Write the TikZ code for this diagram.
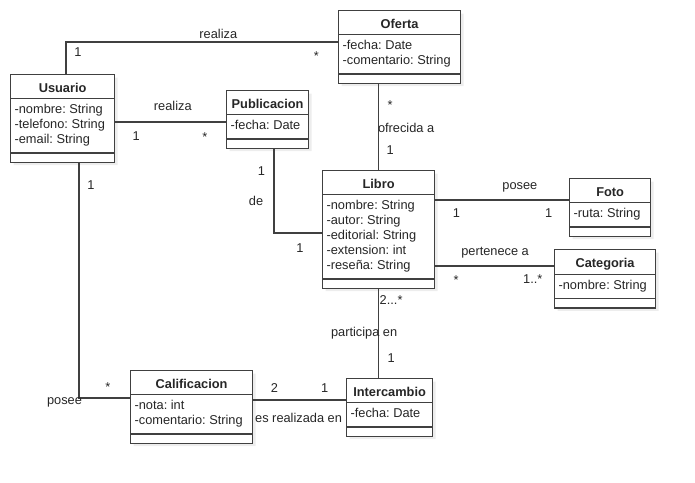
\documentclass[tikz,border=0pt]{standalone}
\usepackage{fontspec}
\setmainfont{Liberation Sans}
\frenchspacing
\usetikzlibrary{shapes.multipart,shadows}

\begin{document}
\begin{tikzpicture}[x=1pt,y=-1pt,font=\fontsize{12.8}{15}\selectfont,text=black!85,
    class/.style={rectangle split,rectangle split parts=3,draw=black!75,line width=1.2pt,fill=white,
      anchor=north west,inner xsep=4pt,inner ysep=4pt,align=left,
      rectangle split part align={center,left,left},
      drop shadow={shadow xshift=3pt,shadow yshift=-3pt,fill=black!7,opacity=1}},
    assoc/.style={draw=black!75,line width=1.2pt},
    lbl/.style={anchor=base,inner sep=0pt}]
  \useasboundingbox (0,0) rectangle (695,482);

  % classes
  \node[class,minimum width=104] (usuario) at (10,74) {\textbf{Usuario}\rule[-2pt]{0pt}{15pt}
    \nodepart{two} -nombre: String\strut\\ -telefono: String\strut\\ -email: String\strut
    \nodepart{three} \rule{0.1pt}{0pt}};
  \node[class,minimum width=122] (oferta) at (338,10) {\textbf{Oferta}\rule[-2pt]{0pt}{15pt}
    \nodepart{two} -fecha: Date\strut\\ -comentario: String\strut
    \nodepart{three} \rule{0.1pt}{0pt}};
  \node[class,minimum width=82] (publicacion) at (226,90) {\textbf{Publicacion}\rule[-2pt]{0pt}{15pt}
    \nodepart{two} -fecha: Date\strut
    \nodepart{three} \rule{0.1pt}{0pt}};
  \node[class,minimum width=112] (libro) at (322,170) {\textbf{Libro}\rule[-2pt]{0pt}{15pt}
    \nodepart{two} -nombre: String\strut\\ -autor: String\strut\\ -editorial: String\strut\\
    -extension: int\strut\\ -reseña: String\strut
    \nodepart{three} \rule{0.1pt}{0pt}};
  \node[class,minimum width=81] (foto) at (569,178) {\textbf{Foto}\rule[-2pt]{0pt}{15pt}
    \nodepart{two} -ruta: String\strut
    \nodepart{three} \rule{0.1pt}{0pt}};
  \node[class,minimum width=101] (categoria) at (554,249) {\textbf{Categoria}\rule[-2pt]{0pt}{15pt}
    \nodepart{two} -nombre: String\strut
    \nodepart{three} \rule{0.1pt}{0pt}};
  \node[class,minimum width=122] (calificacion) at (130,370) {\textbf{Calificacion}\rule[-2pt]{0pt}{15pt}
    \nodepart{two} -nota: int\strut\\ -comentario: String\strut
    \nodepart{three} \rule{0.1pt}{0pt}};
  \node[class,minimum width=86] (intercambio) at (346,378) {\textbf{Intercambio}\rule[-2pt]{0pt}{15pt}
    \nodepart{two} -fecha: Date\strut
    \nodepart{three} \rule{0.1pt}{0pt}};

  % ends of the associations
  \coordinate (pubin) at ([yshift=-32pt]publicacion.north west);
  \coordinate (ofertain) at ([yshift=-32pt]oferta.north west);
  \coordinate (libroin) at ([yshift=-63pt]libro.north west);
  \coordinate (fotoin) at ([yshift=-22pt]foto.north west);
  \coordinate (catin) at ([yshift=-17pt]categoria.north west);
  \coordinate (calin) at ([yshift=-28pt]calificacion.north west);
  \coordinate (intin) at ([yshift=-22pt]intercambio.north west);

  % associations
  \draw[assoc] ([xshift=56pt]usuario.north west) |- (ofertain)
    node[lbl,pos=0.27,xshift=12pt] {1}
    node[lbl,pos=0.78,yshift=4pt] {realiza}
    node[lbl,pos=0.96,yshift=-18pt] {*};
  \draw[assoc] (usuario.east |- pubin) -- (pubin)
    node[lbl,pos=0.52,yshift=12pt] {realiza}
    node[lbl,pos=0.19,yshift=-18pt] {1}
    node[lbl,pos=0.81,yshift=-19pt] {*};
  \draw[assoc] (libro.north) -- (libro.north |- oferta.south)
    node[lbl,pos=0.705,xshift=11.5pt] {*}
    node[lbl,pos=0.432,xshift=27.5pt] {ofrecida a}
    node[lbl,pos=0.182,xshift=11.5pt] {1};
  \draw[assoc] ([xshift=48pt]publicacion.south west) |- (libroin)
    node[lbl,pos=0.157,xshift=-12.5pt] {1}
    node[lbl,pos=0.337,xshift=-18pt] {de}
    node[lbl,pos=0.771,yshift=-19pt] {1};
  \draw[assoc] (libro.east |- fotoin) -- (fotoin)
    node[lbl,pos=0.633,yshift=10.5pt] {posee}
    node[lbl,pos=0.159,yshift=-17pt] {1}
    node[lbl,pos=0.848,yshift=-17pt] {1};
  \draw[assoc] (libro.east |- catin) -- (catin)
    node[lbl,pos=0.504,yshift=11pt] {pertenece a}
    node[lbl,pos=0.175,yshift=-18pt] {*}
    node[lbl,pos=0.821,yshift=-17pt] {1..*};
  \draw[assoc] (libro.south) -- (libro.south |- intercambio.north)
    node[lbl,pos=0.176,xshift=12.5pt] {2...*}
    node[lbl,pos=0.535,xshift=-14.5pt] {participa en}
    node[lbl,pos=0.824,xshift=12.5pt] {1};
  \draw[assoc] ([xshift=69pt]usuario.south west) |- (calin)
    node[lbl,pos=0.057,xshift=12pt] {1}
    node[lbl,pos=0.5,xshift=-14.5pt,yshift=-6pt] {posee}
    node[lbl,pos=0.784,yshift=7pt] {*};
  \draw[assoc] (calificacion.east |- intin) -- (intin)
    node[lbl,pos=0.229,yshift=8pt] {2}
    node[lbl,pos=0.771,yshift=8pt] {1}
    node[lbl,pos=0.489,yshift=-22pt] {es realizada en};
\end{tikzpicture}
\end{document}
